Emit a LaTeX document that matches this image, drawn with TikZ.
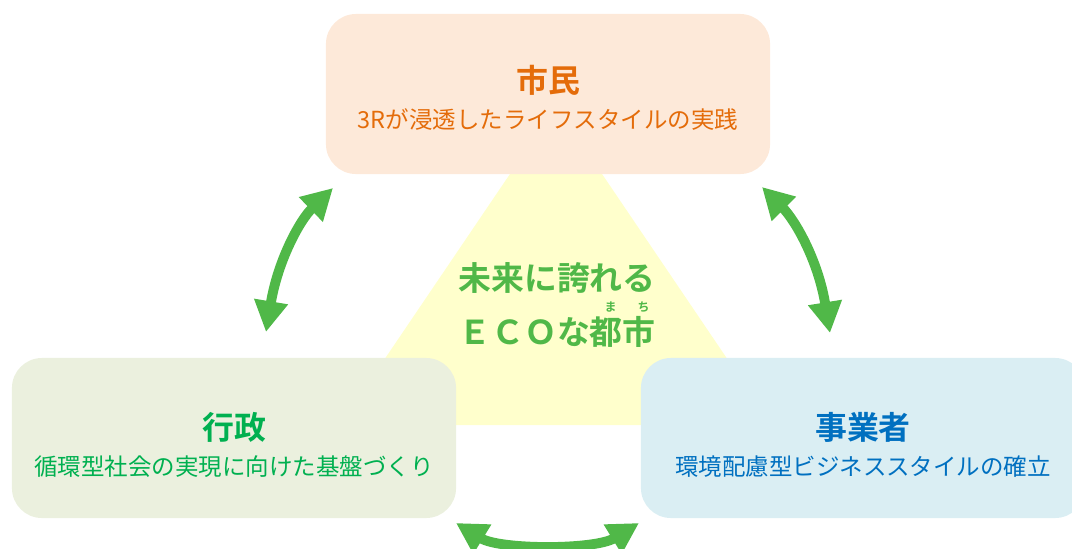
\documentclass[tikz,border=0pt]{standalone}
\usepackage{fontspec}
\setmainfont{Noto Sans CJK JP}[BoldFont={Noto Sans CJK JP Bold}]
\usetikzlibrary{arrows.meta}
\definecolor{shiminfill}{HTML}{FDE9D9}
\definecolor{shimintext}{HTML}{E46C0A}
\definecolor{gyoseifill}{HTML}{EBF0DE}
\definecolor{gyoseitext}{HTML}{00B050}
\definecolor{jigyofill}{HTML}{DAEEF3}
\definecolor{jigyotext}{HTML}{0070C0}
\definecolor{ecoyellow}{HTML}{FFFFCC}
\definecolor{ecogreen}{HTML}{50B848}
\newcommand{\titlefont}{\fontsize{22.7}{30}\selectfont\bfseries}
\newcommand{\subfont}{\fontsize{16.7}{20}\selectfont}
\newcommand{\headroom}[1]{\rule{0pt}{#1}}
\begin{document}
\begin{tikzpicture}[x=0.025cm, y=-0.025cm,
    box/.style={rounded corners=0.75cm, minimum width=11.1cm, minimum height=4cm, align=center},
    twoway/.style={draw=ecogreen, line width=7pt, {Triangle[length=22pt,width=23pt]}-{Triangle[length=22pt,width=23pt]}}]
  \useasboundingbox (0,0) rectangle (1072,548);
  % yellow triangle behind the boxes
  \fill[ecoyellow] (556,106) -- (772,425) -- (340,425) -- cycle;
  \node[box, fill=shiminfill, text=shimintext] (shimin) at (548,94)
    {\titlefont\headroom{25pt}市民\\[8pt] \subfont 3Rが浸透したライフスタイルの実践};
  \node[box, fill=gyoseifill, text=gyoseitext] (gyosei) at (234,438)
    {\titlefont\headroom{29pt}行政\\[8pt] \subfont 循環型社会の実現に向けた基盤づくり};
  \node[box, fill=jigyofill, text=jigyotext] (jigyo) at (863,438)
    {\titlefont\headroom{29pt}事業者\\[8pt] \subfont 環境配慮型ビジネススタイルの確立};
  \node[text=ecogreen, font=\fontsize{23.4}{28}\selectfont\bfseries] (motto) at (557,278) {未来に誇れる};
  \node[text=ecogreen, font=\fontsize{23.4}{28}\selectfont\bfseries] (eco) at (557,332) {ＥＣＯな都市};
  \node[text=ecogreen, font=\fontsize{8.5}{10}\selectfont\bfseries] (machi) at (627,307) {ま\hspace{15pt}ち};
  % arrow ends
  \coordinate (sg) at (333,188);
  \coordinate (gs) at (266,332);
  \coordinate (sj) at (762,187);
  \coordinate (js) at (830,333);
  \coordinate (gj) at (456,523);
  \coordinate (jg) at (639,523);
  \draw[twoway] (gs) .. controls (278,260) and (300,220) .. (sg);
  \draw[twoway] (sj) .. controls (795,220) and (818,260) .. (js);
  \draw[twoway] (gj) .. controls (500,550) and (595,550) .. (jg);
\end{tikzpicture}
\end{document}
